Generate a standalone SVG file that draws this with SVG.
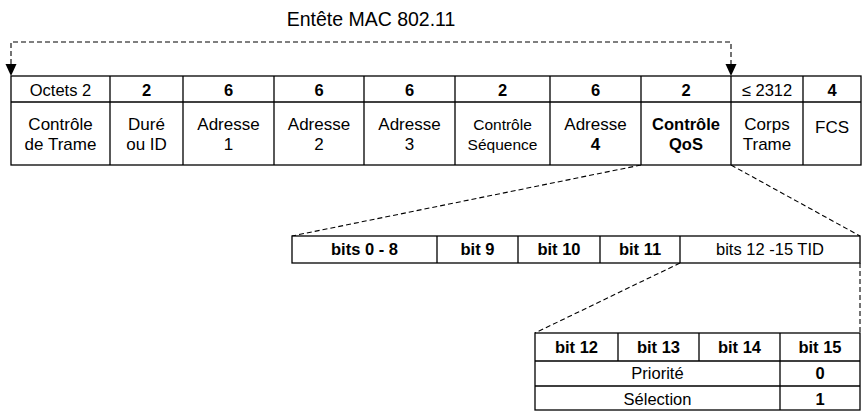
<svg xmlns="http://www.w3.org/2000/svg" width="864" height="412" viewBox="0 0 864 412">
<defs>
<style>
.cell{fill:#fff;stroke:#000;stroke-width:1.3}
.ln{stroke:#000;stroke-width:1.3;fill:none}
.dash{stroke:#000;stroke-width:1.1;fill:none;stroke-dasharray:5 3}
.head{fill:#000}
text{font-family:"Liberation Sans",Arial,sans-serif;font-size:16.5px;fill:#000;text-anchor:middle}
.b{font-weight:bold}
.title{font-size:19.5px}
.big{font-size:17px}
</style>
</defs>
<rect width="864" height="412" fill="#fff"/>

<text class="title" x="371" y="26">Entête MAC 802.11</text>

<g id="connectors">
<path class="dash" d="M11,64 V42 H731 V64"/>
<path class="head" d="M5.5,64 L16.5,64 L11,76 Z"/>
<path class="head" d="M725.5,64 L736.5,64 L731,76 Z"/>
<line class="dash" x1="641" y1="165" x2="292" y2="236"/>
<line class="dash" x1="731" y1="165" x2="860" y2="236"/>
<line class="dash" x1="680" y1="263" x2="535" y2="333"/>
<line class="dash" x1="860" y1="263" x2="860" y2="333"/>
</g>

<g id="mac-header">
<rect class="cell" x="11" y="76" width="850" height="89"/>
<line class="ln" x1="11" y1="102" x2="861" y2="102"/>
<path class="ln" d="M110,76V165M183,76V165M274,76V165M364,76V165M455,76V165M550,76V165M641,76V165M731,76V165M803,76V165"/>
<text x="60.5" y="96">Octets  2</text>
<text class="b" x="146.5" y="96">2</text>
<text class="b" x="228.5" y="96">6</text>
<text class="b" x="319" y="96">6</text>
<text class="b" x="409.5" y="96">6</text>
<text class="b" x="502.5" y="96">2</text>
<text class="b" x="595.5" y="96">6</text>
<text class="b" x="686" y="96">2</text>
<text x="767" y="96">≤ 2312</text>
<text class="b" x="832" y="96">4</text>

<text class="big" x="60.5" y="130">Contrôle</text><text class="big" x="60.5" y="150">de Trame</text>
<text class="big" x="146.5" y="130">Duré</text><text class="big" x="146.5" y="150">ou ID</text>
<text class="big" x="228.5" y="130">Adresse</text><text class="big" x="228.5" y="150">1</text>
<text class="big" x="319" y="130">Adresse</text><text class="big" x="319" y="150">2</text>
<text class="big" x="409.5" y="130">Adresse</text><text class="big" x="409.5" y="150">3</text>
<text x="502.5" y="130" style="font-size:15.5px">Contrôle</text><text x="502.5" y="150" style="font-size:15.5px">Séquence</text>
<text class="big" x="595.5" y="130">Adresse</text><text class="b big" x="595.5" y="150">4</text>
<text class="b" x="686" y="130">Contrôle</text><text class="b" x="686" y="150">QoS</text>
<text class="big" x="767" y="130">Corps</text><text class="big" x="767" y="150">Trame</text>
<text class="big" x="832" y="133">FCS</text>
</g>

<g id="qos-control">
<rect class="cell" x="292" y="236" width="568" height="27"/>
<path class="ln" d="M437,236V263M518,236V263M600,236V263M680,236V263"/>
<text class="b" x="364.5" y="255">bits 0 - 8</text>
<text class="b" x="477.5" y="255">bit 9</text>
<text class="b" x="559" y="255">bit 10</text>
<text class="b" x="640" y="255">bit 11</text>
<text x="770" y="255">bits 12 -15 TID</text>
</g>

<g id="tid">
<rect class="cell" x="535" y="333" width="325" height="77"/>
<path class="ln" d="M535,361H860M535,386H860M618,333V361M699,333V361M780,333V410"/>
<text class="b" x="576.5" y="353">bit 12</text>
<text class="b" x="658.5" y="353">bit 13</text>
<text class="b" x="739.5" y="353">bit 14</text>
<text class="b" x="820" y="353">bit 15</text>
<text x="657.5" y="379">Priorité</text>
<text class="b" x="820" y="379">0</text>
<text x="657.5" y="405">Sélection</text>
<text class="b" x="820" y="405">1</text>
</g>
</svg>
